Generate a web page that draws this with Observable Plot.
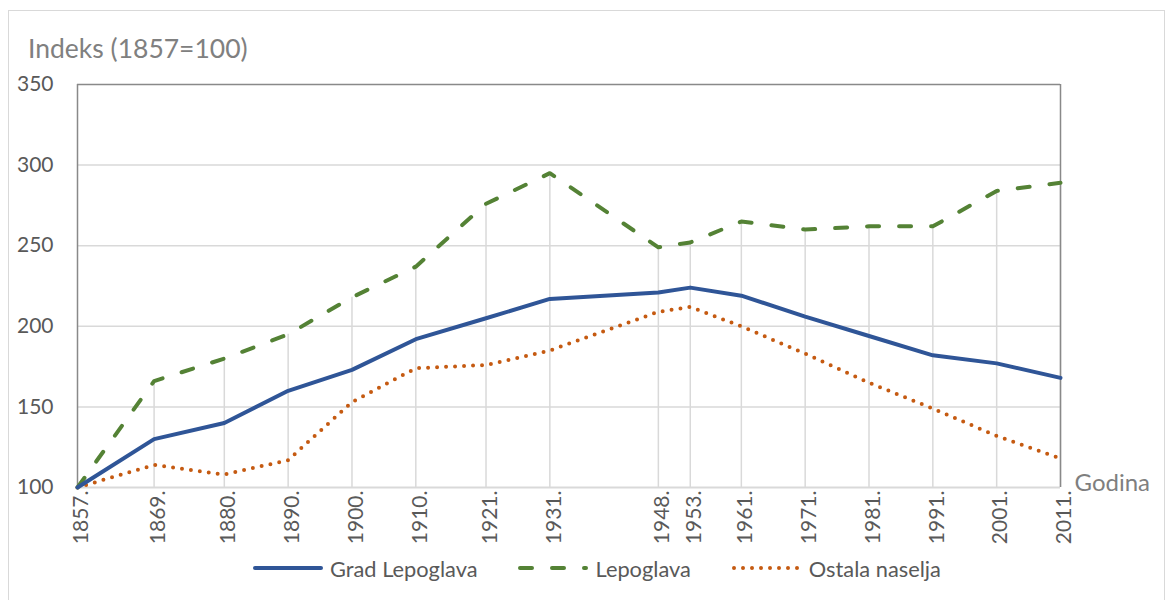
<!DOCTYPE html>
<html>
<head>
<meta charset="utf-8">
<script src="https://cdn.jsdelivr.net/npm/d3@7"></script>
<script src="https://cdn.jsdelivr.net/npm/@observablehq/plot@0.6"></script>
<style>
  html, body { margin: 0; padding: 0; background: #fff; }
  #frame {
    position: absolute; left: 8px; top: 10px; width: 1157px; height: 600px;
    box-sizing: border-box; border: 1px solid #d9d9d9; background: #fff;
    font-family: Lato, "Open Sans", sans-serif;
  }
  #title {
    margin-top: 22px; height: 30px; line-height: 30px; padding-left: 19px;
    font-size: 26.5px; color: #808080;
  }
  #chart svg { display: block; }
  #legend {
    display: flex; align-items: center; height: 26px; margin-left: 244px;
    font-size: 21.8px; color: #595959;
  }
  .item { display: flex; align-items: center; margin-right: 41px; }
  .item svg { margin-right: 7px; }
</style>
</head>
<body>
<div id="frame">
  <div id="title">Indeks (1857=100)</div>
  <div id="chart"></div>
  <div id="legend"></div>
</div>
<script>
const years = [1857, 1869, 1880, 1890, 1900, 1910, 1921, 1931, 1948, 1953, 1961, 1971, 1981, 1991, 2001, 2011];
const gradLepoglava = [100, 130, 140, 160, 173, 192, 205, 217, 221, 224, 219, 206, 194, 182, 177, 168];
const lepoglava = [100, 166, 180, 195, 218, 237, 276, 295, 249, 252, 265, 260, 262, 262, 284, 289];
const ostalaNaselja = [100, 114, 108, 117, 153, 174, 176, 185, 209, 212, 200, 183, 165, 149, 132, 118];
const yTicks = [100, 150, 200, 250, 300, 350];
const seriesNames = ["Grad Lepoglava", "Lepoglava", "Ostala naselja"];
const xLabel = "Godina";

const data = years.map((year, i) => ({
  year, grad: gradLepoglava[i], lep: lepoglava[i], ost: ostalaNaselja[i]
}));

const colors = ["#2f5597", "#548235", "#c55a11"];
const dashes = [null, "12,20", "0,9"];

const chart = Plot.plot({
  width: 1155,
  height: 492,
  marginTop: 21,
  marginLeft: 68,
  marginRight: 104,
  marginBottom: 68,
  style: { fontFamily: "Lato, 'Open Sans', sans-serif", color: "#595959", background: "#fff" },
  x: { type: "linear", domain: [1857, 2011], axis: null },
  y: { domain: [100, 350] },
  marks: [
    Plot.ruleY(yTicks.filter(d => d > 100 && d < 350), { stroke: "#d9d9d9", strokeWidth: 1.5 }),
    Plot.ruleX(data, { x: "year", y1: 100, y2: "lep", stroke: "#d9d9d9", strokeWidth: 1.5 }),
    Plot.ruleY([100], { stroke: "#d9d9d9", strokeWidth: 2 }),
    Plot.ruleY([350], { stroke: "#898989", strokeWidth: 1.5 }),
    Plot.ruleX([1857, 2011], { stroke: "#898989", strokeWidth: 1.5 }),
    Plot.axisY({ ticks: yTicks, tickSize: 0, tickPadding: 24, fontSize: 21, label: null }),
    Plot.text(years, { x: d => d, frameAnchor: "bottom", text: d => d + ".", rotate: -90, textAnchor: "end", lineAnchor: "middle", dx: 4, dy: 3, fontSize: 21, fill: "#595959" }),
    Plot.text([xLabel], { x: 2011, y: 100, dx: 14, dy: -4, text: d => d, textAnchor: "start", fill: "#7f7f7f", fontSize: 24 }),
    Plot.line(data, { x: "year", y: "ost", stroke: colors[2], strokeWidth: 4, strokeDasharray: dashes[2], strokeLinecap: "round" }),
    Plot.line(data, { x: "year", y: "lep", stroke: colors[1], strokeWidth: 4, strokeDasharray: dashes[1], strokeLinecap: "round" }),
    Plot.line(data, { x: "year", y: "grad", stroke: colors[0], strokeWidth: 4, strokeLinecap: "round" })
  ]
});
document.getElementById("chart").appendChild(chart);

const legend = document.getElementById("legend");
seriesNames.forEach((name, i) => {
  const item = document.createElement("div");
  item.className = "item";
  const ns = "http://www.w3.org/2000/svg";
  const s = document.createElementNS(ns, "svg");
  s.setAttribute("width", 70); s.setAttribute("height", 10);
  const l = document.createElementNS(ns, "line");
  l.setAttribute("x1", 2); l.setAttribute("x2", 68); l.setAttribute("y1", 5); l.setAttribute("y2", 5);
  l.setAttribute("stroke", colors[i]); l.setAttribute("stroke-width", 4);
  l.setAttribute("stroke-linecap", "round");
  if (dashes[i]) l.setAttribute("stroke-dasharray", dashes[i]);
  s.appendChild(l);
  item.appendChild(s);
  const t = document.createElement("span");
  t.textContent = name;
  item.appendChild(t);
  legend.appendChild(item);
});
</script>
</body>
</html>
